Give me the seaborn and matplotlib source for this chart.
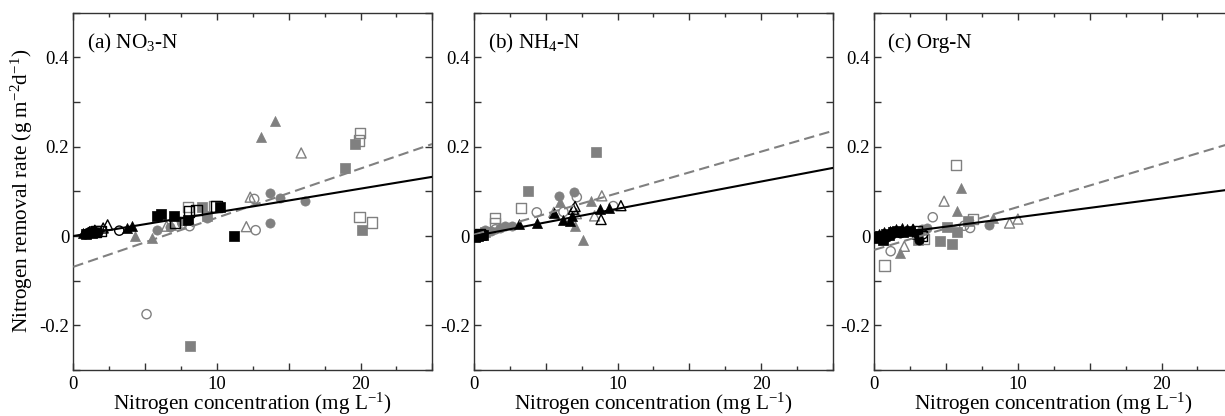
import numpy as np
import seaborn as sns
import matplotlib.pyplot as plt
from matplotlib.ticker import MultipleLocator, FuncFormatter

# ---- data ----
# (a) NO3-N
no3_conc = [0.9, 1.3, 5.86, 6.14, 7.02, 8.0, 10.19, 11.21,
            1.6, 1.9, 7.07, 8.06, 8.57, 9.97,
            0.7, 1.1, 3.75, 4.1,
            1.5, 2.08, 2.39,
            0.8, 1.0, 1.2, 1.45, 1.7,
            1.25, 3.2,
            19.62, 18.93, 20.08, 8.13, 8.96, 9.3,
            19.97, 19.88, 19.92, 20.78, 8.0, 9.84,
            13.09, 14.08, 4.29, 5.45, 6.8,
            15.87, 12.05, 12.32, 6.49,
            13.67, 14.41, 16.15, 13.67, 5.8, 6.72, 7.53, 9.3,
            5.1, 12.7, 12.6, 8.1, 7.6]
no3_rate = [0.004, 0.007, 0.045, 0.049, 0.044, 0.036, 0.066, 0.0,
            0.010, 0.012, 0.030, 0.055, 0.059, 0.066,
            0.006, 0.011, 0.018, 0.022,
            0.013, 0.018, 0.025,
            0.005, 0.010, 0.008, 0.012, 0.009,
            0.010, 0.012,
            0.206, 0.152, 0.014, -0.247, 0.065, 0.044,
            0.230, 0.214, 0.042, 0.030, 0.065, 0.066,
            0.222, 0.258, 0.000, -0.004, 0.025,
            0.186, 0.021, 0.087, 0.022,
            0.096, 0.085, 0.079, 0.029, 0.014, 0.021, 0.033, 0.040,
            -0.175, 0.013, 0.083, 0.022, 0.028]
no3_site = (["A"] * 8 + ["B"] * 6 + ["C"] * 4 + ["D"] * 3 + ["E"] * 5 + ["F"] * 2
            + ["G"] * 6 + ["H"] * 6 + ["I"] * 5 + ["J"] * 4 + ["K"] * 8 + ["L"] * 5)

# (b) NH4-N
nh4_conc = [0.1, 0.3, 0.5, 0.2, 0.65,
            0.4,
            3.16, 4.37, 5.57, 6.22, 6.69, 6.8, 8.78, 9.4,
            6.92, 7.04, 8.85, 10.23,
            0.15, 0.35,
            0.5,
            8.5, 3.78, 0.8,
            1.46, 1.46, 3.28,
            6.0, 8.18, 7.0, 7.58,
            8.9, 5.56, 8.4, 7.13,
            5.92, 6.97, 2.17, 2.63, 0.79, 1.83, 1.2,
            4.37, 7.16, 6.23, 9.7, 1.5]
nh4_rate = [-0.002, 0.000, 0.002, 0.003, 0.003,
            0.004,
            0.027, 0.030, 0.051, 0.036, 0.033, 0.045, 0.060, 0.062,
            0.060, 0.066, 0.037, 0.068,
            0.001, -0.001,
            0.000,
            0.188, 0.101, 0.010,
            0.040, 0.028, 0.062,
            0.077, 0.079, 0.023, -0.010,
            0.090, 0.053, 0.045, 0.050,
            0.089, 0.098, 0.022, 0.023, 0.014, 0.018, 0.012,
            0.053, 0.087, 0.054, 0.067, 0.015]
nh4_site = (["A"] * 5 + ["B"] * 1 + ["C"] * 8 + ["D"] * 4 + ["E"] * 2 + ["F"] * 1
            + ["G"] * 3 + ["H"] * 3 + ["I"] * 4 + ["J"] * 4 + ["K"] * 7 + ["L"] * 5)

# (c) Org-N
org_conc = [0.2, 0.4, 0.6, 0.8, 1.0, 1.3, 1.6, 2.0, 2.5, 3.0,
            2.95, 3.3,
            0.3, 0.7, 1.1, 1.5, 1.9, 2.3,
            2.7,
            0.15, 0.5, 0.9, 1.2, 1.8, 3.1,
            3.4,
            5.05, 4.58, 5.44, 6.5, 5.74, 3.07,
            5.70, 0.7, 6.86, 3.42,
            6.05, 5.74, 1.79, 8.3,
            4.86, 9.42, 10.0, 2.09,
            8.0, 3.65, 3.3,
            4.07, 6.67, 6.26, 1.14]
org_rate = [-0.005, 0.000, -0.008, 0.005, 0.002, 0.008, 0.012, 0.010, 0.012, 0.005,
            0.011, 0.000,
            0.004, 0.008, 0.012, 0.016, 0.017, 0.015,
            0.015,
            0.000, -0.004, -0.002, 0.004, 0.006, -0.008,
            0.004,
            0.020, -0.012, -0.019, 0.034, 0.010, -0.008,
            0.159, -0.066, 0.038, -0.007,
            0.107, 0.055, -0.038, 0.040,
            0.078, 0.029, 0.038, -0.023,
            0.025, 0.018, 0.015,
            0.042, 0.018, 0.023, -0.034]
org_site = (["A"] * 10 + ["B"] * 2 + ["C"] * 6 + ["D"] * 1 + ["E"] * 6 + ["F"] * 1
            + ["G"] * 6 + ["H"] * 4 + ["I"] * 4 + ["J"] * 4 + ["K"] * 3 + ["L"] * 4)

# regression lines (slope, intercept): black = solid, gray = dashed
black_slope = [0.0053, 0.0061, 0.0042]
black_icept = [0.0, 0.0, 0.0]
gray_slope = [0.011, 0.0093, 0.0096]
gray_icept = [-0.069, 0.003, -0.031]

panel_titles = ["(a) NO$_3$-N", "(b) NH$_4$-N", "(c) Org-N"]

# ---- styling ----
sns.set_style("ticks")
plt.rcParams['font.family'] = ['Liberation Serif', 'DejaVu Serif']
plt.rcParams['mathtext.fontset'] = 'custom'
plt.rcParams['mathtext.rm'] = 'Liberation Serif'
plt.rcParams['mathtext.it'] = 'Liberation Serif:italic'
plt.rcParams['text.color'] = 'black'
plt.rcParams['axes.labelcolor'] = 'black'
plt.rcParams['xtick.labelcolor'] = 'black'
plt.rcParams['ytick.labelcolor'] = 'black'

GRAY = '#808080'
# site -> (marker, colour, filled)
site_style = {
    "G": ("s", GRAY, True), "H": ("s", GRAY, False),
    "I": ("^", GRAY, True), "J": ("^", GRAY, False),
    "K": ("o", GRAY, True), "L": ("o", GRAY, False),
    "A": ("s", "black", True), "B": ("s", "black", False),
    "C": ("^", "black", True), "D": ("^", "black", False),
    "E": ("o", "black", True), "F": ("o", "black", False),
}
marker_size = {"s": 55, "^": 52, "o": 44}

fig = plt.figure(figsize=(12.25, 4.16), dpi=100)
lefts = [73.3 / 1225, 474 / 1225, 874.3 / 1225]
bottom = 46 / 416
width = 359 / 1225
height = 357.3 / 416

panels = [(no3_conc, no3_rate, no3_site),
          (nh4_conc, nh4_rate, nh4_site),
          (org_conc, org_rate, org_site)]

xl = np.array([0, 25])
for i, (xs, ys, sites) in enumerate(panels):
    ax = fig.add_axes([lefts[i], bottom, width, height])
    xs = np.array(xs)
    ys = np.array(ys)
    sites = np.array(sites)
    for site, (mk, col, filled) in site_style.items():
        sel = sites == site
        if not sel.any():
            continue
        if filled:
            sns.scatterplot(x=xs[sel], y=ys[sel], marker=mk, s=marker_size[mk],
                            color=col, edgecolor=col, linewidth=0.5, ax=ax, zorder=3)
        else:
            sns.scatterplot(x=xs[sel], y=ys[sel], marker=mk, s=marker_size[mk],
                            color=col, facecolor='none', edgecolor=col,
                            linewidth=1.0, ax=ax, zorder=3)

    sns.lineplot(x=xl, y=gray_slope[i] * xl + gray_icept[i], color=GRAY,
                 linewidth=1.5, linestyle=(0, (5, 2.5)), ax=ax, zorder=4)
    sns.lineplot(x=xl, y=black_slope[i] * xl + black_icept[i], color='black',
                 linewidth=1.5, ax=ax, zorder=5)

    ax.set_xlim(0, 25)
    ax.set_ylim(-0.3, 0.5)
    ax.xaxis.set_major_locator(MultipleLocator(5))
    ax.xaxis.set_minor_locator(MultipleLocator(2.5))
    ax.yaxis.set_major_locator(MultipleLocator(0.1))
    ax.xaxis.set_major_formatter(FuncFormatter(
        lambda v, p: f"{v:g}" if abs(v / 10 - round(v / 10)) < 1e-6 else ""))
    ax.yaxis.set_major_formatter(FuncFormatter(
        lambda v, p: f"{round(v, 1):g}" if abs(v / 0.2 - round(v / 0.2)) < 1e-6 else ""))
    ax.tick_params(which='both', direction='in', top=True, right=True,
                   labelsize=13.5, color='#333333', labelcolor='black')
    ax.tick_params(which='major', length=5, width=1)
    ax.tick_params(which='minor', length=3, width=1)
    ax.tick_params(axis='x', pad=4)
    ax.tick_params(axis='y', pad=3)
    for sp in ax.spines.values():
        sp.set_visible(True)
        sp.set_color('#333333')
        sp.set_linewidth(1)

    ax.set_xlabel("Nitrogen concentration (mg L$^{-1}$)", fontsize=15.3, labelpad=-1)
    if i == 0:
        ax.set_ylabel("Nitrogen removal rate (g m$^{-2}$d$^{-1}$)", fontsize=15.3, labelpad=3)
    else:
        ax.set_ylabel("")
    ax.text(0.038, 0.915, panel_titles[i], transform=ax.transAxes,
            fontsize=15.3, ha='left', va='center')

fig.savefig("out.png", dpi=100)
